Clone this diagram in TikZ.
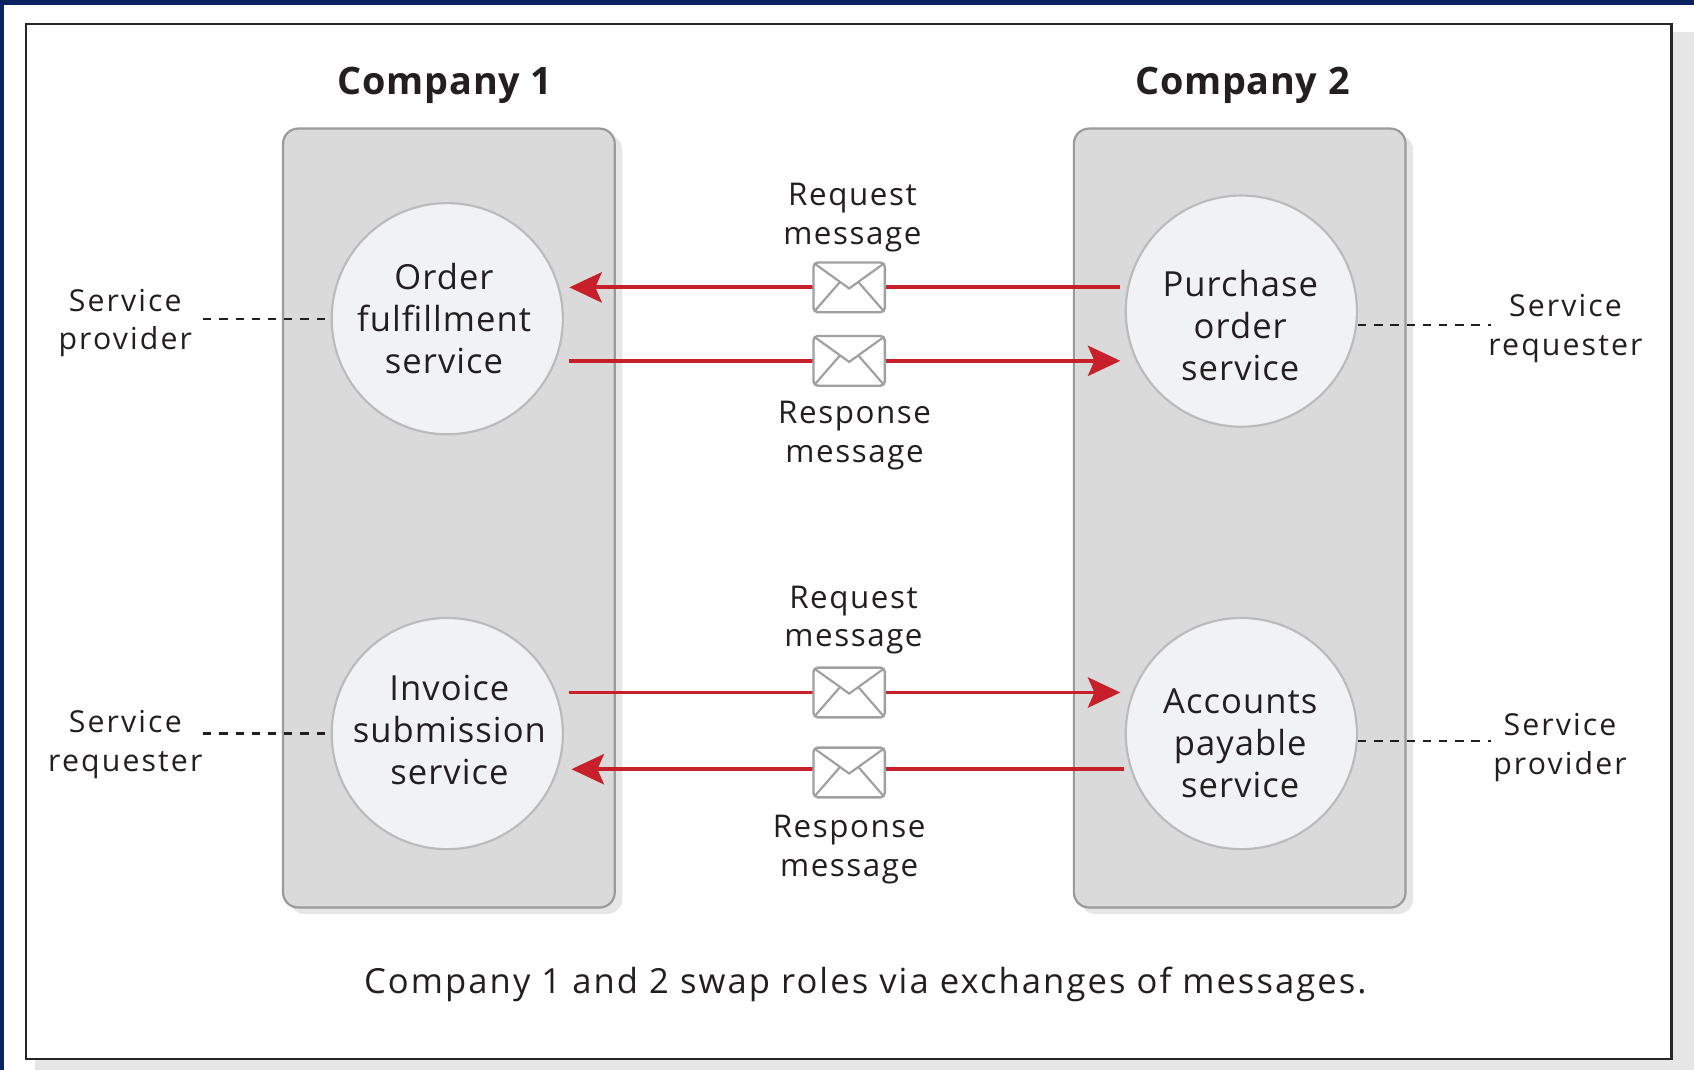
\documentclass[tikz,border=0pt]{standalone}
\usepackage{fontspec}
\setmainfont{Open Sans}
\newfontfamily\rolefont[LetterSpace=7]{Open Sans}
\newfontfamily\msgfont[LetterSpace=5]{Open Sans}
\newfontfamily\svcfont[LetterSpace=3]{Open Sans}
\newfontfamily\capfont[LetterSpace=6]{Open Sans}
\newfontfamily\titlefont[LetterSpace=2]{Open Sans Bold}
\usetikzlibrary{arrows.meta}
\definecolor{navy}{HTML}{0A2260}
\definecolor{panelfill}{HTML}{DADADA}
\definecolor{panelline}{HTML}{9A9A9C}
\definecolor{circfill}{HTML}{F1F2F4}
\definecolor{circline}{HTML}{BBBBBE}
\definecolor{msgred}{HTML}{C8202A}
\definecolor{txt}{HTML}{231F20}
\definecolor{shadowgrey}{HTML}{E6E6E6}
\definecolor{envline}{HTML}{A0A0A0}
\tikzset{
  panel/.style={draw=panelline, line width=2pt, fill=panelfill, rounded corners=14pt},
  svc/.style={circle, draw=circline, line width=2pt, fill=circfill, minimum size=214pt, inner sep=0pt, text=txt},
  svctext/.style={align=center, text=txt, font=\svcfont\fontsize{32}{39}\selectfont, inner sep=0pt},
  lbl/.style={align=center, text=txt, font=\msgfont\fontsize{29}{36}\selectfont, inner sep=0pt},
  rolelbl/.style={align=center, text=txt, font=\rolefont\fontsize{28}{36}\selectfont, inner sep=0pt},
  caplbl/.style={text=txt, font=\capfont\fontsize{32}{38}\selectfont, inner sep=0pt},
  title/.style={text=txt, font=\titlefont\fontsize{35}{40}\selectfont, inner sep=0pt},
  msg/.style={draw=msgred, line width=3.5pt, -{Stealth[length=30pt,width=28pt,inset=6pt]}},
  role/.style={draw=txt, line width=2.2pt, dash pattern=on 7.7pt off 7.3pt},
}
\newcommand{\envelope}[2]{%
  \begin{scope}[shift={(#1,#2)}]
    \draw[envline, line width=2.2pt, fill=white, rounded corners=4pt] (-33,-23) rectangle (33,23);
    \draw[envline, line width=2pt] (-32,-22) -- (0,1) -- (32,-22);
    \draw[envline, line width=2pt] (-32,22) -- (-8.5,-5) (32,22) -- (8.5,-5);
  \end{scope}}
\begin{document}
\begin{tikzpicture}[x=1pt,y=-1pt]
\useasboundingbox (0,0) rectangle (1568,990);
% background
\fill[white] (0,0) rectangle (1568,990);
\fill[shadowgrey] (32,30) rectangle (1568,990);
\fill[navy] (0,0) rectangle (1568,5);
\fill[navy] (0,0) rectangle (4,990);
\draw[black!85, line width=2.2pt, fill=white] (24,22) rectangle (1547,980);
% panels with shadows
\fill[shadowgrey, rounded corners=14pt] (268,125) rectangle (576,846);
\fill[shadowgrey, rounded corners=14pt] (1000,125) rectangle (1308,846);
\path[panel] (262,119) rectangle (569,840);
\path[panel] (994,119) rectangle (1301,840);
% titles
\node[title] (t1) at (412,79) {Company 1};
\node[title] (t2) at (1150,79) {Company 2};
% services
\node[svc] (order) at (414,295) {};
\node[svc] (purchase) at (1149,288) {};
\node[svc] (invoice) at (414,679) {};
\node[svc] (accounts) at (1149,679) {};
\node[svctext] at (411,295) {Order\\fulfillment\\service};
\node[svctext] at (1148,301) {Purchase\\order\\service};
\node[svctext] at (416,676) {Invoice\\submission\\service};
\node[svctext] at (1148,688) {Accounts\\payable\\service};
% arrow endpoints
\coordinate (a1s) at (1037,266); \coordinate (a1e) at (527,266);
\coordinate (a2s) at (527,334);  \coordinate (a2e) at (1037,334);
\coordinate (a3s) at (527,641);  \coordinate (a3e) at (1037,641);
\coordinate (a4s) at (1040,712); \coordinate (a4e) at (529,712);
\draw[msg] (a1s) -- (a1e);
\draw[msg] (a2s) -- (a2e);
\draw[msg] (a3s) -- (a3e);
\draw[msg] (a4s) -- (a4e);
\envelope{786}{266}
\envelope{786}{334}
\envelope{786}{641}
\envelope{786}{715}
% message labels
\node[lbl] (req1) at (789,201) {Request\\message};
\node[lbl] (resp1) at (791,403) {Response\\message};
\node[lbl] (req2) at (790,574) {Request\\message};
\node[lbl] (resp2) at (786,786) {Response\\message};
% roles
\node[rolelbl] (r1) at (116,299) {Service\\provider};
\node[rolelbl] (r2) at (1449,304) {Service\\requester};
\node[rolelbl] (r3) at (116,689) {Service\\requester};
\node[rolelbl] (r4) at (1444,692) {Service\\provider};
\coordinate (d1) at (188,295);
\coordinate (d2) at (1380,301);
\coordinate (d3) at (188,679);
\coordinate (d4) at (1380,686);
\draw[role] (d1) -- (order.west |- d1);
\draw[role] (purchase.east |- d2) -- (d2);
\draw[role] (d3) -- (invoice.west |- d3);
\draw[role] (accounts.east |- d4) -- (d4);
% caption
\node[caplbl] (cap) at (801,911) {Company 1 and 2 swap roles via exchanges of messages.};
\end{tikzpicture}
\end{document}
